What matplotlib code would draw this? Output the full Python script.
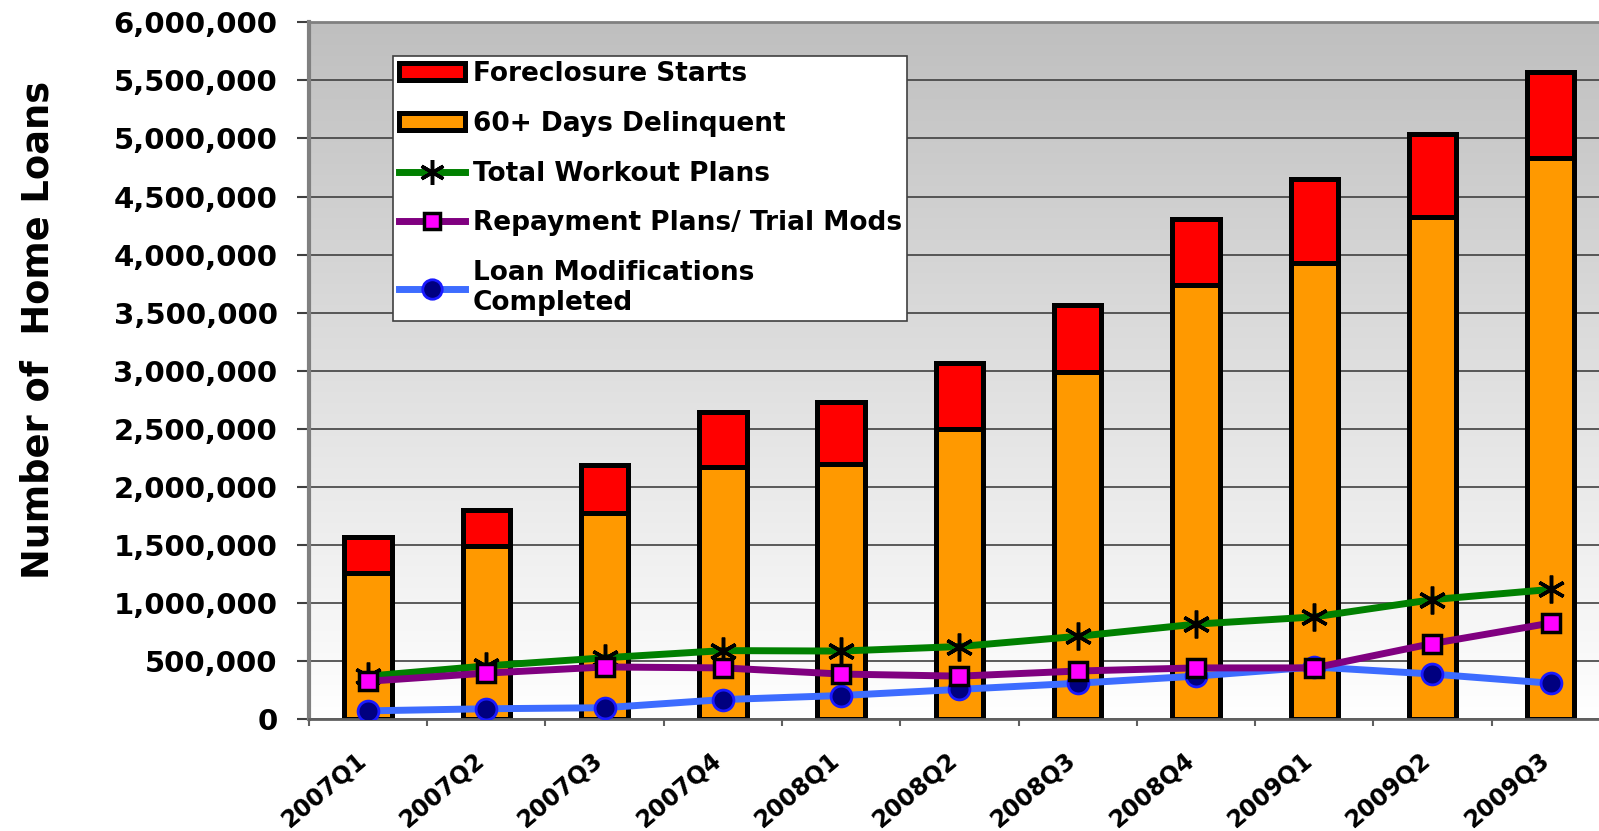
import numpy as np
import matplotlib.pyplot as plt
import matplotlib.transforms as mtransforms
from matplotlib.colors import LinearSegmentedColormap
from matplotlib.lines import Line2D
from matplotlib.patches import Patch
from matplotlib.ticker import FuncFormatter

plt.rcParams['font.family'] = 'DejaVu Sans'
plt.rcParams['font.weight'] = 'bold'

#data (number of home loans per quarter)
quarters = ['2007Q1', '2007Q2', '2007Q3', '2007Q4', '2008Q1', '2008Q2',
            '2008Q3', '2008Q4', '2009Q1', '2009Q2', '2009Q3']
delinquent_60 = [1257000, 1494000, 1775000, 2170000, 2197000, 2496000,
                 2988000, 3735000, 3930000, 4327000, 4830000]
foreclosure_starts = [307000, 307000, 413000, 475000, 536000, 571000,
                      580000, 575000, 721000, 712000, 743000]
total_workout = [369000, 457000, 527000, 589000, 585000, 624000,
                 712000, 817000, 879000, 1028000, 1116000]
repayment_plans = [325000, 395000, 448000, 440000, 387000, 369000,
                   413000, 440000, 440000, 650000, 826000]
loan_mods = [70000, 88000, 97000, 167000, 202000, 255000,
             308000, 369000, 448000, 387000, 308000]

labels = ['Foreclosure Starts', '60+ Days Delinquent', 'Total Workout Plans',
          'Repayment Plans/ Trial Mods', 'Loan Modifications\nCompleted']

fig = plt.figure(figsize=(15.99, 8.31), dpi=100)
#axes runs a bit past the right edge like the original picture
ax = fig.add_axes([0.1932, 0.1348, 0.8136, 0.8383])

x = np.arange(len(quarters)) + 0.5

#gray to white gradient behind the plot
grad_cmap = LinearSegmentedColormap.from_list('bg', ['#ffffff', '#bfbfbf'])
grad = np.linspace(0, 1, 256).reshape(-1, 1)
ax.imshow(grad, cmap=grad_cmap, origin='lower', aspect='auto',
          extent=[0, len(quarters), 0, 6000000], zorder=0)

#stacked bars
ax.bar(x, delinquent_60, width=0.4, color='#ff9900', edgecolor='black',
       linewidth=3.6, zorder=2)
ax.bar(x, foreclosure_starts, bottom=delinquent_60, width=0.4, color='#ff0000',
       edgecolor='black', linewidth=3.6, zorder=2)

#lines
ax.plot(x, loan_mods, color='#3d6cff', lw=5, marker='o', ms=15,
        mfc='#000080', mec='#1a1aff', mew=2, zorder=3)
ax.plot(x, total_workout, color='#008000', lw=5, marker=(6, 2, 0), ms=20,
        mec='black', mew=2.5, zorder=4)
ax.plot(x, repayment_plans, color='#800080', lw=5, marker='s', ms=13,
        mfc='#ff00ff', mec='black', mew=2.5, zorder=5)

ax.set_xlim(0, len(quarters))
ax.set_ylim(0, 6000000)

#y axis
ax.set_yticks(np.arange(0, 6000001, 500000))
ax.yaxis.set_major_formatter(FuncFormatter(lambda v, p: '{:,.0f}'.format(v)))
ax.tick_params(axis='y', length=8.6, width=1.5, color='#404040', pad=14,
               labelsize=21)
ax.yaxis.grid(True, color='#404040', lw=1.2)
ax.set_axisbelow(True)

#x axis: tick marks between quarters, labels at the bars
ax.set_xticks(np.arange(len(quarters) + 1))
ax.set_xticklabels([])
ax.set_xticks(x, minor=True)
ax.set_xticklabels(quarters, minor=True, rotation=40, ha='right', va='top',
                   rotation_mode='anchor', fontsize=17, fontweight='bold')
ax.tick_params(axis='x', which='minor', length=0, pad=21)
ax.tick_params(axis='x', which='major', length=5, width=1.5, color='#606060')
shift = mtransforms.ScaledTranslation(-13 / 100, 0, fig.dpi_scale_trans)
for lbl in ax.get_xticklabels(minor=True):
    lbl.set_transform(lbl.get_transform() + shift)

ax.spines['left'].set_color('#808080')
ax.spines['left'].set_linewidth(3)
ax.spines['bottom'].set_color('#606060')
ax.spines['bottom'].set_linewidth(2)
ax.spines['top'].set_color('#808080')
ax.spines['top'].set_linewidth(2)
ax.spines['right'].set_visible(False)

fig.text(38 / 1599, 1 - 330 / 831, 'Number of  Home Loans', rotation=90,
         ha='center', va='center', fontsize=26.5, fontweight='bold')

#legend
handles = [
    Patch(facecolor='#ff0000', edgecolor='black', linewidth=3.6),
    Patch(facecolor='#ff9900', edgecolor='black', linewidth=3.6),
    Line2D([], [], color='#008000', lw=5, marker=(6, 2, 0), ms=18,
           mec='black', mew=2.5),
    Line2D([], [], color='#800080', lw=5, marker='s', ms=12,
           mfc='#ff00ff', mec='black', mew=2.5),
    Line2D([], [], color='#3d6cff', lw=5, marker='o', ms=14,
           mfc='#000080', mec='#1a1aff', mew=2),
]
leg = ax.legend(handles, labels, loc='upper left', bbox_to_anchor=(0.065, 0.952),
                fontsize=19, frameon=True, fancybox=False, edgecolor='#404040',
                framealpha=1, handlelength=2.5, handleheight=0.6,
                handletextpad=0.3, labelspacing=0.9, borderpad=0.2,
                borderaxespad=0)
leg.get_frame().set_linewidth(1.2)
leg.set_zorder(10)

fig.savefig('out.png', dpi=100)
